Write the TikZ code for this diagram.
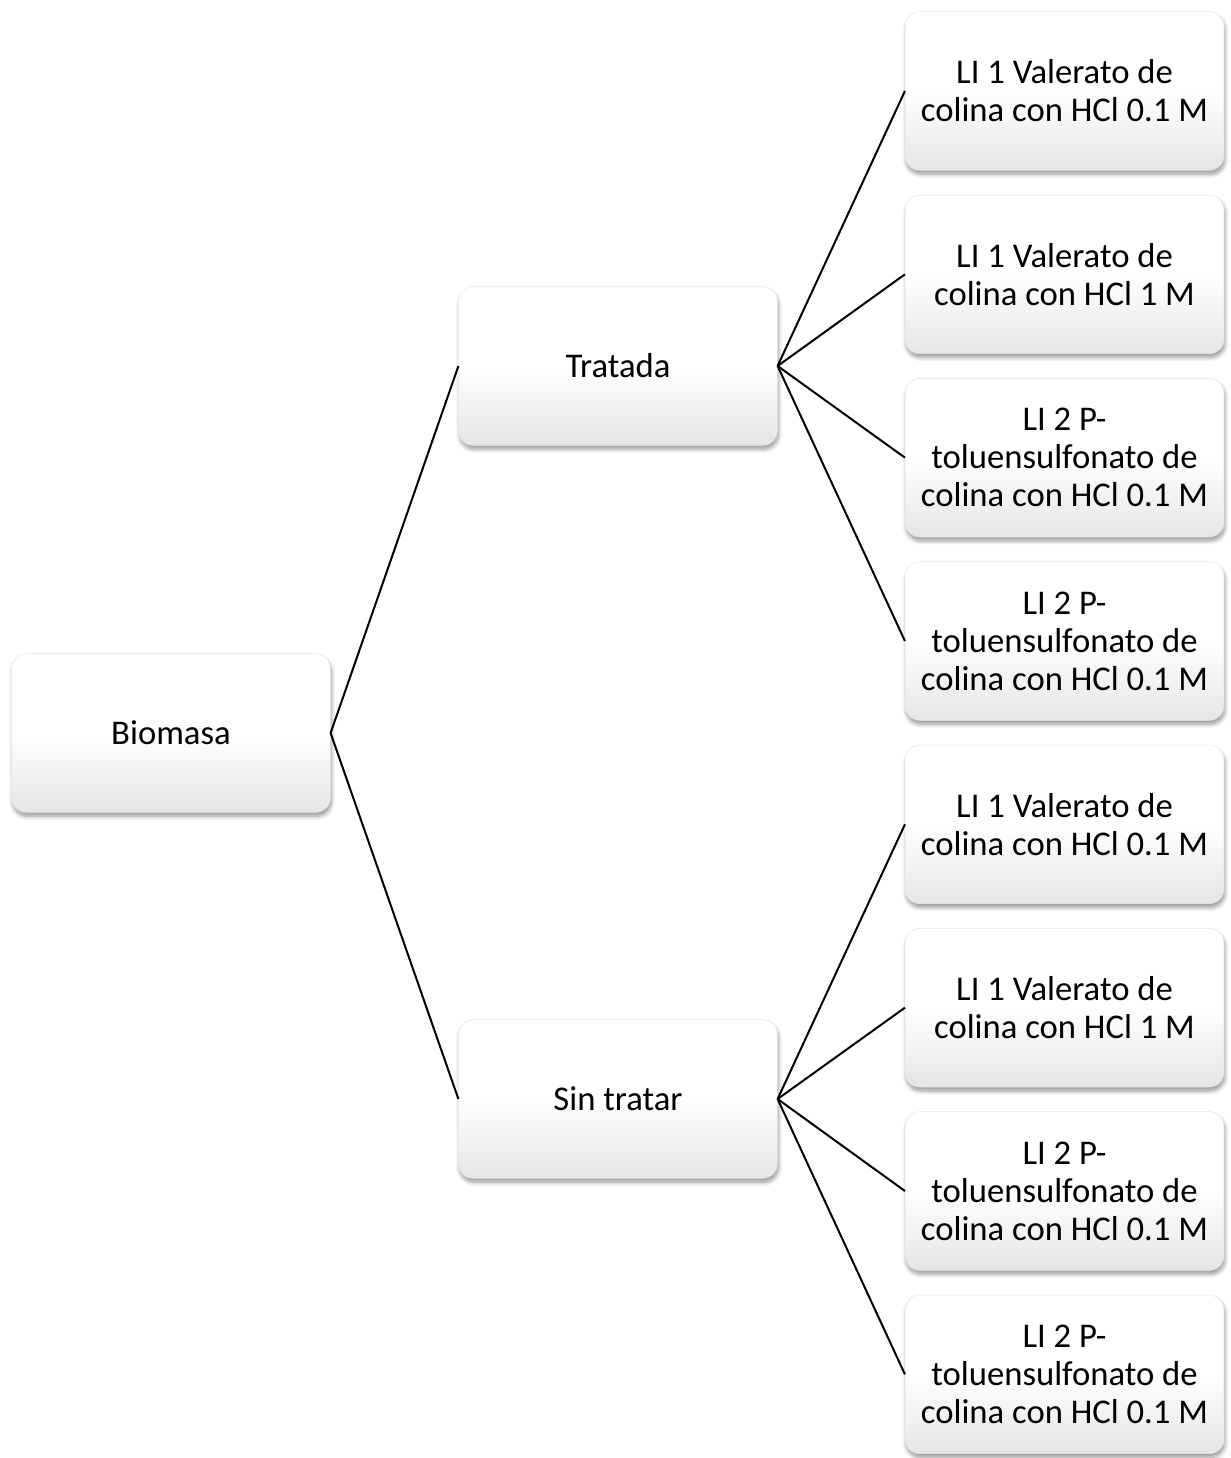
\documentclass[tikz,border=0pt]{standalone}
\usepackage{fontspec}
\setmainfont{Carlito}
\usetikzlibrary{shapes,arrows,shadows.blur}
\tikzstyle{block} = [rectangle, rounded corners=11pt, draw=black!10, line width=0.4pt, minimum width=239pt, minimum height=119pt, align=center, font=\fontsize{26}{28.5}\selectfont, top color=white, bottom color=black!10, middle color=white, blur shadow={shadow xshift=0.8pt, shadow yshift=-3pt, shadow opacity=40, shadow blur radius=3pt, shadow blur steps=8}, node distance=137.5pt]
\tikzstyle{line} = [draw, line width=1.5pt]

\begin{document}
\begin{tikzpicture}[x=0.75pt, y=-0.75pt]
		\useasboundingbox (0,0) rectangle (1230,1458);
		\node [block] (bio) at (171,733) {Biomasa};
		\node [block, right of=bio, node distance=335.25pt, yshift=275.25pt] (trat) {Tratada};
		\node [block, below of=trat, node distance=549.75pt] (sin) {Sin tratar};

		\node [block, right of=trat, node distance=334.9pt, yshift=206.25pt] (t1) {LI 1 Valerato de\\colina con HCl 0.1 M};
		\node [block, below of=t1] (t2) {LI 1 Valerato de\\colina con HCl 1 M};
		\node [block, below of=t2] (t3) {LI 2 P-\\toluensulfonato de\\colina con HCl 0.1 M};
		\node [block, below of=t3] (t4) {LI 2 P-\\toluensulfonato de\\colina con HCl 0.1 M};
		\node [block, below of=t4] (s1) {LI 1 Valerato de\\colina con HCl 0.1 M};
		\node [block, below of=s1] (s2) {LI 1 Valerato de\\colina con HCl 1 M};
		\node [block, below of=s2] (s3) {LI 2 P-\\toluensulfonato de\\colina con HCl 0.1 M};
		\node [block, below of=s3] (s4) {LI 2 P-\\toluensulfonato de\\colina con HCl 0.1 M};

		\path [line] (bio.east) -- (trat.west);
		\path [line] (bio.east) -- (sin.west);
		\foreach \c in {t1,t2,t3,t4}
			\path [line] (trat.east) -- (\c.west);
		\foreach \c in {s1,s2,s3,s4}
			\path [line] (sin.east) -- (\c.west);
	\end{tikzpicture}
\end{document}
